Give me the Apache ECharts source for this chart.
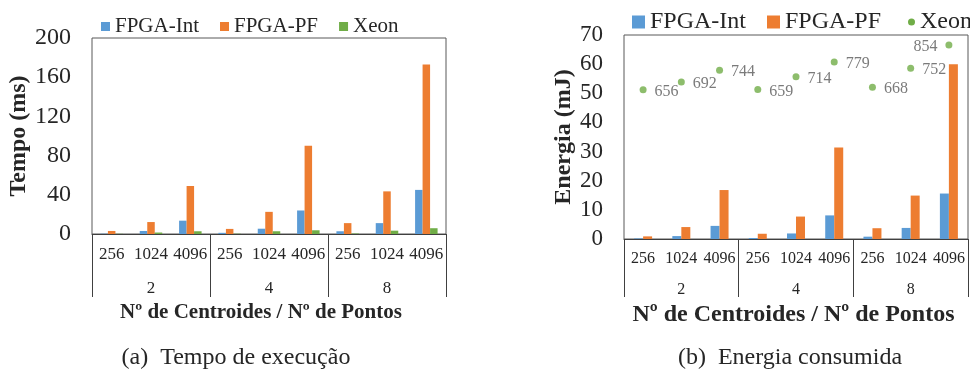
<!DOCTYPE html>
<html>
<head>
<meta charset="utf-8">
<script src="https://cdn.jsdelivr.net/npm/echarts@6/dist/echarts.min.js"></script>
<style>
html,body{margin:0;padding:0;background:#fff;}
#chart{width:970px;height:371px;}
</style>
</head>
<body>
<div id="chart"></div>
<script>
// Categories
var points = ['256', '1024', '4096', '256', '1024', '4096', '256', '1024', '4096'];
var centroids = ['2', '4', '8'];

// (a) Tempo de execução (ms)
var tempoFpgaInt = [0.3, 3.1, 13.6, 1.2, 5.4, 24, 2.8, 11.1, 45];
var tempoFpgaPF = [3.1, 12.2, 49, 5.2, 22.6, 90, 11.1, 43.5, 173];
var tempoXeon = [0.2, 1.5, 2.8, 0.3, 2.8, 3.8, 0.5, 3.4, 5.9];

// (b) Energia consumida (mJ)
var energiaFpgaInt = [0.2, 1.0, 4.5, 0.35, 1.9, 8.1, 0.8, 3.8, 15.6];
var energiaFpgaPF = [0.9, 4.1, 16.8, 1.8, 7.7, 31.4, 3.7, 14.9, 60];
// Xeon: plotted position (as drawn in the chart) and its labelled value
var energiaXeonPos = [51.2, 53.9, 57.9, 51.3, 55.7, 60.7, 52.1, 58.6, 66.6];
var energiaXeonLabel = [656, 692, 744, 659, 714, 779, 668, 752, 854];

var yTicksA = {min: 0, max: 200, interval: 40};
var yTicksB = {min: 0, max: 70, interval: 10};

var FONT = 'Liberation Serif';
var TXT = '#262626';
var BLUE = '#5B9BD5', ORANGE = '#ED7D31', GREEN = '#70AD47';

var chart = echarts.init(document.getElementById('chart'), null, {renderer: 'canvas'});

function catAxis(gi, fs) {
  return {
    type: 'category', gridIndex: gi, data: points, position: 'bottom',
    axisLine: {show: true, lineStyle: {color: '#404040', width: 1}},
    axisTick: {show: false},
    axisLabel: {fontFamily: FONT, fontSize: fs, color: TXT, margin: 12, interval: 0}
  };
}
function groupAxis(gi, fs, tickLen, labMargin, nameSize, nameGap, namePadRight) {
  return {
    type: 'category', gridIndex: gi, data: centroids, position: 'bottom',
    axisLine: {show: false},
    axisTick: {show: true, length: tickLen, interval: 0, lineStyle: {color: '#404040', width: 1}},
    axisLabel: {fontFamily: FONT, fontSize: fs, color: TXT, margin: labMargin, interval: 0},
    name: 'Nº de Centroides / Nº de Pontos', nameLocation: 'middle', nameGap: nameGap,
    nameTextStyle: {fontFamily: FONT, fontSize: nameSize, fontWeight: 'bold', color: TXT, padding: [0, namePadRight, 0, 0]}
  };
}
function valAxis(gi, t, fs, name, gap, margin) {
  return {
    type: 'value', gridIndex: gi, min: t.min, max: t.max, interval: t.interval,
    axisLine: {show: false}, axisTick: {show: false}, splitLine: {show: false},
    axisLabel: {fontFamily: FONT, fontSize: fs, color: TXT, margin: margin},
    name: name, nameLocation: 'middle', nameRotate: 90, nameGap: gap,
    nameTextStyle: {fontFamily: FONT, fontSize: 24, fontWeight: 'bold', color: TXT}
  };
}

var xeonData = energiaXeonPos.map(function (v, i) {
  var d = {value: v};
  if (i === energiaXeonPos.length - 1) {
    d.label = {position: 'left', offset: [0, 2]};
  }
  return d;
});

var option = {
  animation: false,
  backgroundColor: '#fff',
  grid: [
    {left: 92, top: 38, width: 354, height: 196, show: true, borderColor: '#595959', borderWidth: 1},
    {left: 624, top: 35, width: 344, height: 204, show: true, borderColor: '#595959', borderWidth: 1}
  ],
  legend: [
    {data: ['FPGA-Int', 'FPGA-PF', 'Xeon'], icon: 'rect', left: 96, top: 11, itemWidth: 9, itemHeight: 9, itemGap: 21,
     textStyle: {fontFamily: FONT, fontSize: 21, color: TXT}, selectedMode: false},
    {data: ['FPGA-Int', 'FPGA-PF'], icon: 'rect', left: 627, top: 5, itemWidth: 13, itemHeight: 13, itemGap: 21,
     textStyle: {fontFamily: FONT, fontSize: 24, color: TXT}, selectedMode: false},
    {data: [{name: 'Xeon', icon: 'circle'}], left: 903, top: 5, itemWidth: 7, itemHeight: 7, itemGap: 10,
     textStyle: {fontFamily: FONT, fontSize: 24, color: TXT}, selectedMode: false}
  ],
  xAxis: [
    catAxis(0, 17), groupAxis(0, 17, 63, 46, 21, 64, 16),
    catAxis(1, 16), groupAxis(1, 16, 58, 43, 24, 64, 5)
  ],
  yAxis: [valAxis(0, yTicksA, 24, 'Tempo (ms)', 61, 21), valAxis(1, yTicksB, 23, 'Energia (mJ)', 48, 21)],
  series: [
    {name: 'FPGA-Int', type: 'bar', xAxisIndex: 0, yAxisIndex: 0, data: tempoFpgaInt, barWidth: 7.5, barGap: '0%', itemStyle: {color: BLUE}},
    {name: 'FPGA-PF', type: 'bar', xAxisIndex: 0, yAxisIndex: 0, data: tempoFpgaPF, barWidth: 7.5, barGap: '0%', itemStyle: {color: ORANGE}},
    {name: 'Xeon', type: 'bar', xAxisIndex: 0, yAxisIndex: 0, data: tempoXeon, barWidth: 7.5, barGap: '0%', itemStyle: {color: GREEN}},
    {name: 'FPGA-Int', type: 'bar', xAxisIndex: 2, yAxisIndex: 1, data: energiaFpgaInt, barWidth: 9, barGap: '0%', itemStyle: {color: BLUE}},
    {name: 'FPGA-PF', type: 'bar', xAxisIndex: 2, yAxisIndex: 1, data: energiaFpgaPF, barWidth: 9, barGap: '0%', itemStyle: {color: ORANGE}},
    {name: 'Xeon', type: 'scatter', xAxisIndex: 2, yAxisIndex: 1, data: xeonData, symbolSize: 7, itemStyle: {color: GREEN},
     label: {show: true, position: 'right', distance: 8, offset: [0, 2], fontFamily: FONT, fontSize: 16, color: '#595959',
             formatter: function (p) { return String(energiaXeonLabel[p.dataIndex]); }}}
  ],
  graphic: [
    {type: 'text', style: {text: '(a)  Tempo de execução', fontFamily: FONT, fontSize: 24, fill: TXT, x: 236, y: 358, align: 'center', verticalAlign: 'middle'}},
    {type: 'text', style: {text: '(b)  Energia consumida', fontFamily: FONT, fontSize: 24, fill: TXT, x: 790, y: 358, align: 'center', verticalAlign: 'middle'}}
  ]
};
chart.setOption(option);
</script>
</body>
</html>
